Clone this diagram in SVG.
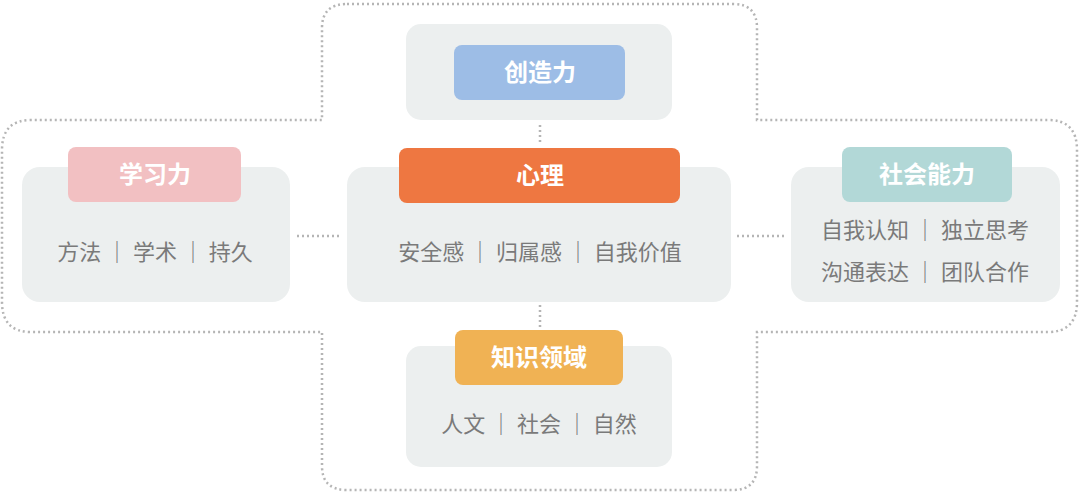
<svg xmlns="http://www.w3.org/2000/svg" width="1080" height="492" viewBox="0 0 1080 492">
<style>
.dot{fill:none;stroke:#b5b5b5;stroke-width:2.5;stroke-dasharray:2 3}
.box{fill:#ecefef}
.t{font-family:"Noto Sans CJK SC","Noto Sans",sans-serif;font-size:22px;fill:#7a7a7a;text-anchor:middle}
.h{font-family:"Noto Sans CJK SC","Noto Sans",sans-serif;font-size:24px;font-weight:bold;fill:#fff;text-anchor:middle}
</style>
<rect width="1080" height="492" fill="#fff"/>
<path class="dot" d="M347 4H733Q757 4 757 28V120H1048Q1077 120 1077 150V302Q1077 332 1048 332H757V466Q757 490 733 490H347Q322 490 322 466V332H31Q2 332 2 302V150Q2 120 31 120H322V28Q322 4 347 4Z"/>
<g id="connectors">
<path class="dot" d="M297 236H340M737 236H785M540 125V145M540 305V328"/>
</g>
<g id="top"><rect class="box" x="406" y="24" width="266" height="96" rx="15"/><rect x="454" y="45" width="171" height="55" rx="8" fill="#9dbde6"/><text class="h" x="540" y="81">创造力</text></g>
<g id="left"><rect class="box" x="22" y="167" width="268" height="135" rx="18"/><rect x="68" y="147" width="173" height="55" rx="8" fill="#f2c0c2"/><text class="h" x="155" y="183">学习力</text><text class="t" x="155" y="260">方法 ｜ 学术 ｜ 持久</text></g>
<g id="center"><rect class="box" x="347" y="167" width="384" height="135" rx="18"/><rect x="399" y="148" width="281" height="55" rx="8" fill="#ee7741"/><text class="h" x="540" y="184">心理</text><text class="t" x="540" y="260">安全感 ｜ 归属感 ｜ 自我价值</text></g>
<g id="right"><rect class="box" x="791" y="167" width="269" height="135" rx="18"/><rect x="842" y="147" width="170" height="55" rx="8" fill="#b2d8d7"/><text class="h" x="927" y="183">社会能力</text><text class="t" x="925" y="238">自我认知 ｜ 独立思考</text><text class="t" x="925" y="280">沟通表达 ｜ 团队合作</text></g>
<g id="bottom"><rect class="box" x="406" y="346" width="266" height="121" rx="15"/><rect x="455" y="330" width="168" height="55" rx="8" fill="#f0b254"/><text class="h" x="539" y="366">知识领域</text><text class="t" x="539" y="432">人文 ｜ 社会 ｜ 自然</text></g>
</svg>
